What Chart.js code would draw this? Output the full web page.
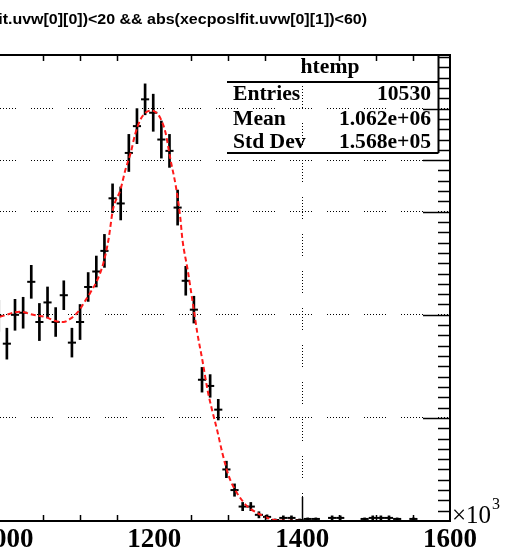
<!DOCTYPE html>
<html><head><meta charset="utf-8">
<script src="https://cdn.jsdelivr.net/npm/chart.js@4/dist/chart.umd.min.js"></script>
<style>html,body{margin:0;padding:0;background:#fff;overflow:hidden}#wrap{position:relative;width:509px;height:552px}</style>
</head><body><div id="wrap"><canvas id="c" width="509" height="552"></canvas></div>
<script>
// ---- data (x in units of 10^3) ----
const binCenters = [989.5,1000.5,1011.5,1022.5,1033.5,1044.5,1055.5,1066.5,1077.5,1088.5,1099.5,1110.5,1121.5,1132.5,1143.5,1154.5,1165.5,1176.5,1187.5,1198.5,1209.5,1220.5,1231.5,1242.5,1253.5,1264.5,1275.5,1286.5,1297.5,1308.5,1319.5,1330.5,1341.5,1352.5,1363.5,1374.5,1385.5,1396.5,1407.5,1418.5,1429.5,1440.5,1451.5,1462.5,1473.5,1484.5,1495.5,1506.5,1517.5,1528.5,1539.5,1550.5,1561.5,1572.5,1583.5,1594.5];
const binCounts = [199,172,200,202,232,193,212,193,219,173,193,227,242,262,313,308,357,383,409,396,370,359,304,233,205,137,131,108,50,30,14,14,6,4,1,3,3,1,2,2,0,3,3,0,0,2,3,3,3,2,0,2,0,0,0,0];
const binErrors = [15,15,15,15,16,18,15,14,14,14,17,14,15,16,14,16,18,17,15,18,18,16,17,14,13,12,11,10,8,6,4,4,3,2,1,2,2,1,1,1,0,2,2,0,0,1,2,2,2,1,0,1,0,0,0,0];
const fitX = [991,1018,1036,1052,1066,1077,1086,1097,1106,1113,1123,1131,1138,1144,1154,1161,1168,1174,1181,1188,1195,1201,1208,1215,1222,1229,1235,1238,1245,1250,1253,1258,1265,1272,1278,1285,1292,1301,1312,1326,1339,1357,1380,1422];
const fitY = [198,203,200,198,194,193,196,203,213,221,234,250,273,302,321,341,357,375,389,396,398,397,391,377,350,325,295,273,244,221,207,183,156,127,108,88,66,43,27,14,8,2,0.3,0];
const xTickValues = [1000,1200,1400,1600];
const xGridValues = [1400];
const yGridValues = [100,200,300,350,400];
const statsLabels = ['Entries','Mean','Std Dev'];
const statsValues = ['10530','1.062e+06','1.568e+05'];
const histName = 'htemp';
const titleHidden = 'abs(xecposlfit';
const titleVisible = '.uvw[0][0])<20 && abs(xecposlfit.uvw[0][1])<60)';
const BIN_WIDTH = 11;
const X_MIN = 991.2, X_MAX = 1600, Y_MAX = 452;

const GRID_DASH = [1,2,1,2,1,2,1,2,1,2,1,2,1,2,1,15];

const decor = {
  id: 'decor',
  afterDraw(chart) {
    const {ctx, chartArea: a, scales: {x, y}} = chart;
    ctx.save();
    ctx.setTransform(1, 0, 0, 1, 0, 0);
    ctx.strokeStyle = '#000';
    // frame
    ctx.lineWidth = 2;
    ctx.beginPath();
    ctx.moveTo(a.left - 5, a.top); ctx.lineTo(a.right, a.top); ctx.lineTo(a.right, a.bottom); ctx.lineTo(a.left - 5, a.bottom);
    ctx.stroke();
    // right axis ticks (inside)
    ctx.lineWidth = 1.5;
    for (let v = 10; v < Y_MAX; v += 10) {
      const py = Math.round(y.getPixelForValue(v)) + 0.5;
      const len = yGridValues.includes(v) ? 27 : 12;
      ctx.beginPath(); ctx.moveTo(a.right - len, py); ctx.lineTo(a.right, py); ctx.stroke();
    }
    // x ticks top & bottom (inside)
    for (let v = 1000; v <= 1600; v += 50) {
      const major = xTickValues.includes(v);
      const grid = xGridValues.includes(v);
      if (major && !grid) continue;
      const px = Math.round(x.getPixelForValue(v)) + 0.5;
      const len = grid ? 24 : 6;
      ctx.beginPath(); ctx.moveTo(px, a.bottom); ctx.lineTo(px, a.bottom - len); ctx.stroke();
      if (!major) { ctx.beginPath(); ctx.moveTo(px, a.top); ctx.lineTo(px, a.top + 6); ctx.stroke(); }
    }
    // stats box
    const bl = 227, br = 438.5, sep = 82, bb = 153;
    ctx.lineWidth = 2;
    ctx.beginPath();
    ctx.moveTo(bl, sep); ctx.lineTo(br, sep);
    ctx.moveTo(bl, bb); ctx.lineTo(br, bb);
    ctx.moveTo(br, a.top); ctx.lineTo(br, bb);
    ctx.stroke();
    ctx.fillStyle = '#000';
    ctx.textBaseline = 'alphabetic';
    ctx.font = 'bold 20px "Liberation Serif"';
    const sx = 1.08;
    const drawText = (t, px, py, align) => {
      ctx.save(); ctx.translate(px, py); ctx.scale(sx, 1); ctx.textAlign = align; ctx.fillText(t, 0, 0); ctx.restore();
    };
    drawText(histName, 330, 73, 'center');
    const rows = [100, 125, 148];
    statsLabels.forEach((t, i) => drawText(t, 233, rows[i], 'left'));
    statsValues.forEach((t, i) => drawText(t, 431, rows[i], 'right'));
    // x10^3
    ctx.font = '25px "Liberation Serif"';
    ctx.textAlign = 'left';
    ctx.fillText('\u00d710', 452, 523);
    ctx.font = '16px "Liberation Serif"';
    ctx.fillText('3', 492, 509);
    // title (cropped on the left like the reference)
    ctx.font = 'bold 14px "Liberation Sans"';
    const wVis = ctx.measureText(titleVisible).width;
    const wHid = ctx.measureText(titleHidden).width;
    const tsx = 359 / wVis;
    ctx.save(); ctx.translate(8 - wHid * tsx, 24); ctx.scale(tsx, 1); ctx.textAlign = 'left';
    ctx.fillText(titleHidden + titleVisible, 0, 0); ctx.restore();
    ctx.restore();
  }
};

const halfBinPx = (c) => {
  const s = c.chart.scales.x;
  return Math.abs(s.getPixelForValue(BIN_WIDTH) - s.getPixelForValue(0)) / 2;
};

new Chart(document.getElementById('c'), {
  type: 'bar',
  data: {
    datasets: [
      {
        type: 'line', order: 0,
        data: fitX.map((v, i) => ({x: v, y: fitY[i]})),
        borderColor: '#ff1a1a', borderWidth: 2, borderDash: [5, 3],
        pointRadius: 0, cubicInterpolationMode: 'monotone', fill: false
      },
      {
        type: 'line', order: 1, showLine: false,
        data: binCenters.map((v, i) => ({x: v, y: binCounts[i]})),
        pointStyle: 'line', pointRadius: halfBinPx, pointBorderColor: '#000', pointBorderWidth: 2,
        pointHoverRadius: halfBinPx
      },
      {
        type: 'bar', order: 2,
        data: binCenters.map((v, i) => ({x: v, y: [binCounts[i] - binErrors[i], binCounts[i] + binErrors[i]]})),
        backgroundColor: '#000', borderWidth: 0, barThickness: 2, grouped: false
      }
    ]
  },
  options: {
    responsive: false, animation: false, devicePixelRatio: 1,
    layout: {padding: {left: 0, right: 59, top: 55, bottom: 0}},
    plugins: {legend: {display: false}, tooltip: {enabled: false}, title: {display: false}},
    scales: {
      x: {
        type: 'linear', min: X_MIN, max: X_MAX, offset: false,
        afterBuildTicks: s => { s.ticks = xTickValues.map(v => ({value: v})); },
        afterFit: s => { s.height = 31; s.paddingLeft = 0; s.paddingRight = 0; },
        ticks: {autoSkip: false, maxRotation: 0, minRotation: 0, padding: 3, color: '#000',
          font: {family: 'Liberation Serif', size: 27, weight: 'bold'}, callback: v => String(v)},
        grid: {offset: false, drawTicks: false, lineWidth: 1,
          color: c => (c.tick && xGridValues.includes(c.tick.value)) ? '#000' : 'rgba(0,0,0,0)'},
        border: {display: false, dash: GRID_DASH, dashOffset: 6}
      },
      y: {
        type: 'linear', position: 'right', min: 0, max: Y_MAX,
        afterBuildTicks: s => { s.ticks = yGridValues.map(v => ({value: v})); },
        afterFit: s => { s.width = 0; },
        ticks: {display: false},
        grid: {drawTicks: false, lineWidth: 1, color: '#000'},
        border: {display: false, dash: GRID_DASH, dashOffset: 6}
      }
    }
  },
  plugins: [decor]
});
</script>
</body></html>
